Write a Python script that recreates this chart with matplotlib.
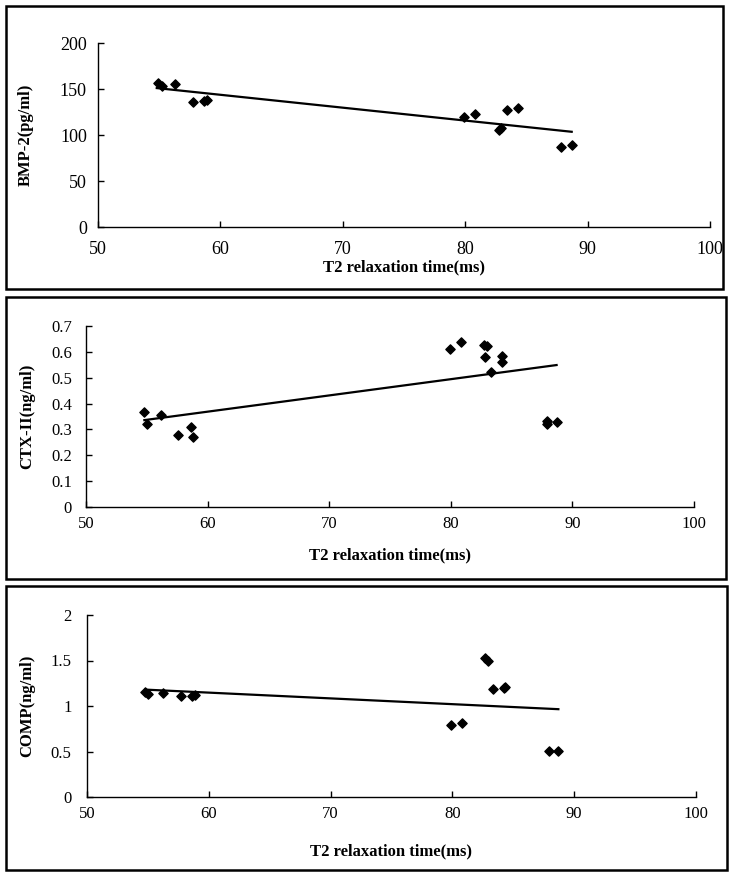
import matplotlib
matplotlib.use("Agg")
import matplotlib.pyplot as plt
from matplotlib.patches import Rectangle

W, H = 733, 876

# BMP-2 panel
bmp_x = [54.9, 55.2, 56.3, 57.8, 58.7, 58.9, 79.9, 80.8, 82.8, 82.9, 83.4, 84.3, 87.8, 88.7]
bmp_y = [156, 153, 155, 136, 137, 138, 120, 123, 105, 108, 127, 129, 87, 89]
bmp_trend_x = [54.8, 88.7]
bmp_trend_y = [151, 103.5]

# CTX-II panel
ctx_x = [54.8, 55.0, 56.2, 57.6, 58.6, 58.8, 79.9, 80.8, 82.7, 83.0, 82.8, 84.2, 84.2, 83.3, 87.9, 87.9, 88.7]
ctx_y = [0.367, 0.321, 0.356, 0.278, 0.309, 0.270, 0.612, 0.640, 0.626, 0.624, 0.580, 0.583, 0.562, 0.524, 0.332, 0.322, 0.328]
ctx_trend_x = [54.8, 88.7]
ctx_trend_y = [0.336, 0.549]

# COMP panel
comp_x = [54.8, 55.0, 56.2, 57.7, 58.6, 58.9, 79.9, 80.8, 82.7, 82.9, 83.3, 84.2, 84.3, 87.9, 88.7]
comp_y = [1.15, 1.13, 1.14, 1.11, 1.11, 1.12, 0.79, 0.81, 1.53, 1.49, 1.19, 1.20, 1.21, 0.51, 0.51]
comp_trend_x = [54.8, 88.7]
comp_trend_y = [1.18, 0.965]

plt.rcParams['font.family'] = ['Liberation Serif', 'DejaVu Serif']

fig = plt.figure(figsize=(W / 100, H / 100), dpi=100)


def px_rect(l, t, r, b):
    return [l / W, 1 - b / H, (r - l) / W, (b - t) / H]


# outer boxes round each panel
for l, t, r, b in [(6, 6, 723, 289), (6, 297, 726, 579), (6, 586, 727, 870)]:
    fig.patches.append(Rectangle((l / W, 1 - b / H), (r - l) / W, (b - t) / H,
                                 transform=fig.transFigure, fill=False,
                                 edgecolor='black', lw=1.8))

panels = [
    (bmp_x, bmp_y, bmp_trend_x, bmp_trend_y, 'BMP-2(pg/ml)', (0, 200), 50,
     (98, 43, 710, 227), 13, 10, 8, 26, 267),
    (ctx_x, ctx_y, ctx_trend_x, ctx_trend_y, 'CTX-II(ng/ml)', (0, 0.7), 0.1,
     (86, 326, 694, 507), 12, 6.5, 10, 27, 555),
    (comp_x, comp_y, comp_trend_x, comp_trend_y, 'COMP(ng/ml)', (0, 2), 0.5,
     (87, 615, 696, 797), 12, 6.5, 11, 27, 851),
]

for xs, ys, tx, ty, ylab, ylim, ystep, box, fs, xpad, ypad, ylab_x, xlab_y in panels:
    l, t, r, b = box
    ax = fig.add_axes(px_rect(l, t, r, b))
    ax.plot(tx, ty, color='black', lw=1.6, zorder=2)
    ax.scatter(xs, ys, marker='D', s=22, color='black', zorder=3)
    ax.set_xlim(50, 100)
    ax.set_ylim(*ylim)
    ax.set_xticks(range(50, 101, 10))
    n = int(round(ylim[1] / ystep))
    ax.set_yticks([round(i * ystep, 2) for i in range(n + 1)])
    if ystep < 1:
        ax.set_yticklabels([('%g' % round(i * ystep, 2)) for i in range(n + 1)])
    for s in ['top', 'right']:
        ax.spines[s].set_visible(False)
    for s in ['left', 'bottom']:
        ax.spines[s].set_linewidth(1.0)
    ax.tick_params(axis='x', direction='in', length=4, width=1, labelsize=fs, pad=xpad)
    ax.tick_params(axis='y', direction='in', length=4, width=1, labelsize=fs, pad=ypad)
    ax.patch.set_visible(False)
    fig.text(ylab_x / W, 1 - ((t + b) / 2) / H, ylab, rotation=90, fontsize=12,
             fontweight='bold', ha='center', va='center')
    fig.text(((l + r) / 2) / W, 1 - xlab_y / H, 'T2 relaxation time(ms)', fontsize=12,
             fontweight='bold', ha='center', va='center')

fig.savefig('out.png', dpi=100)
